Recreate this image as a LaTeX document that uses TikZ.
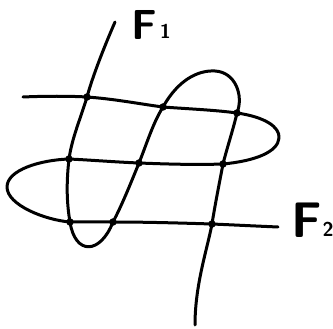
\documentclass[tikz,border=0pt]{standalone}
\begin{document}
\begin{tikzpicture}[x=1pt,y=-1pt,
  curve/.style={line width=3pt, line cap=round, line join=round},
  dot/.style={circle, fill, inner sep=0pt, minimum size=7.5pt},
  lab/.style={inner sep=0pt, anchor=base west}]
\useasboundingbox (0,0) rectangle (333,329);
% intersection points
\coordinate (p11) at (87,97);
\coordinate (p12) at (163,107);
\coordinate (p13) at (237,113);
\coordinate (p21) at (69,159);
\coordinate (p22) at (139,163);
\coordinate (p23) at (223,164);
\coordinate (p31) at (70,222);
\coordinate (p32) at (113,222);
\coordinate (p33) at (212,224);
\coordinate (a1) at (115,22);
\coordinate (a2) at (195,325);
\coordinate (b1) at (23,97);
\coordinate (b2) at (278,227);
% F1
\draw[curve] (a1) .. controls (105,45) and (93,75) .. (p11)
  .. controls (80,120) and (72,138) .. (p21)
  .. controls (66,185) and (67,205) .. (p31)
  .. controls (75,255) and (100,255) .. (p32)
  .. controls (122,205) and (130,185) .. (p22)
  .. controls (147,143) and (153,123) .. (p12)
  .. controls (178,80) and (198,70) .. (215,71)
  .. controls (235,72) and (244,95) .. (p13)
  .. controls (233,130) and (227,148) .. (p23)
  .. controls (219,185) and (215,205) .. (p33)
  .. controls (207,250) and (195,285) .. (a2);
% F2
\draw[curve] (b1) .. controls (45,96) and (70,96) .. (p11)
  .. controls (115,99) and (140,104) .. (p12)
  .. controls (190,109) and (215,110) .. (p13)
  .. controls (265,117) and (280,127) .. (279,138)
  .. controls (278,152) and (255,161) .. (p23)
  .. controls (195,165) and (165,164) .. (p22)
  .. controls (115,162) and (90,160) .. (p21)
  .. controls (40,160) and (7,170) .. (7,187)
  .. controls (7,205) and (45,220) .. (p31)
  .. controls (85,222) and (100,222) .. (p32)
  .. controls (145,222) and (180,223) .. (p33)
  .. controls (235,225) and (255,226) .. (b2);
% dots
\foreach \p in {p11,p12,p13,p21,p22,p23,p31,p32,p33}
  \node[dot] (d\p) at (\p) {};
% labels
\node[lab] (F1) at (131,40) {\sffamily\bfseries\fontsize{42}{42}\selectfont F\hspace{3pt}\raisebox{1pt}{\fontsize{20}{20}\selectfont 1}};
\node[lab] (F2) at (291,238) {\sffamily\bfseries\fontsize{50}{50}\selectfont F\hspace{1pt}\raisebox{1pt}{\fontsize{20}{20}\selectfont 2}};
\end{tikzpicture}
\end{document}
